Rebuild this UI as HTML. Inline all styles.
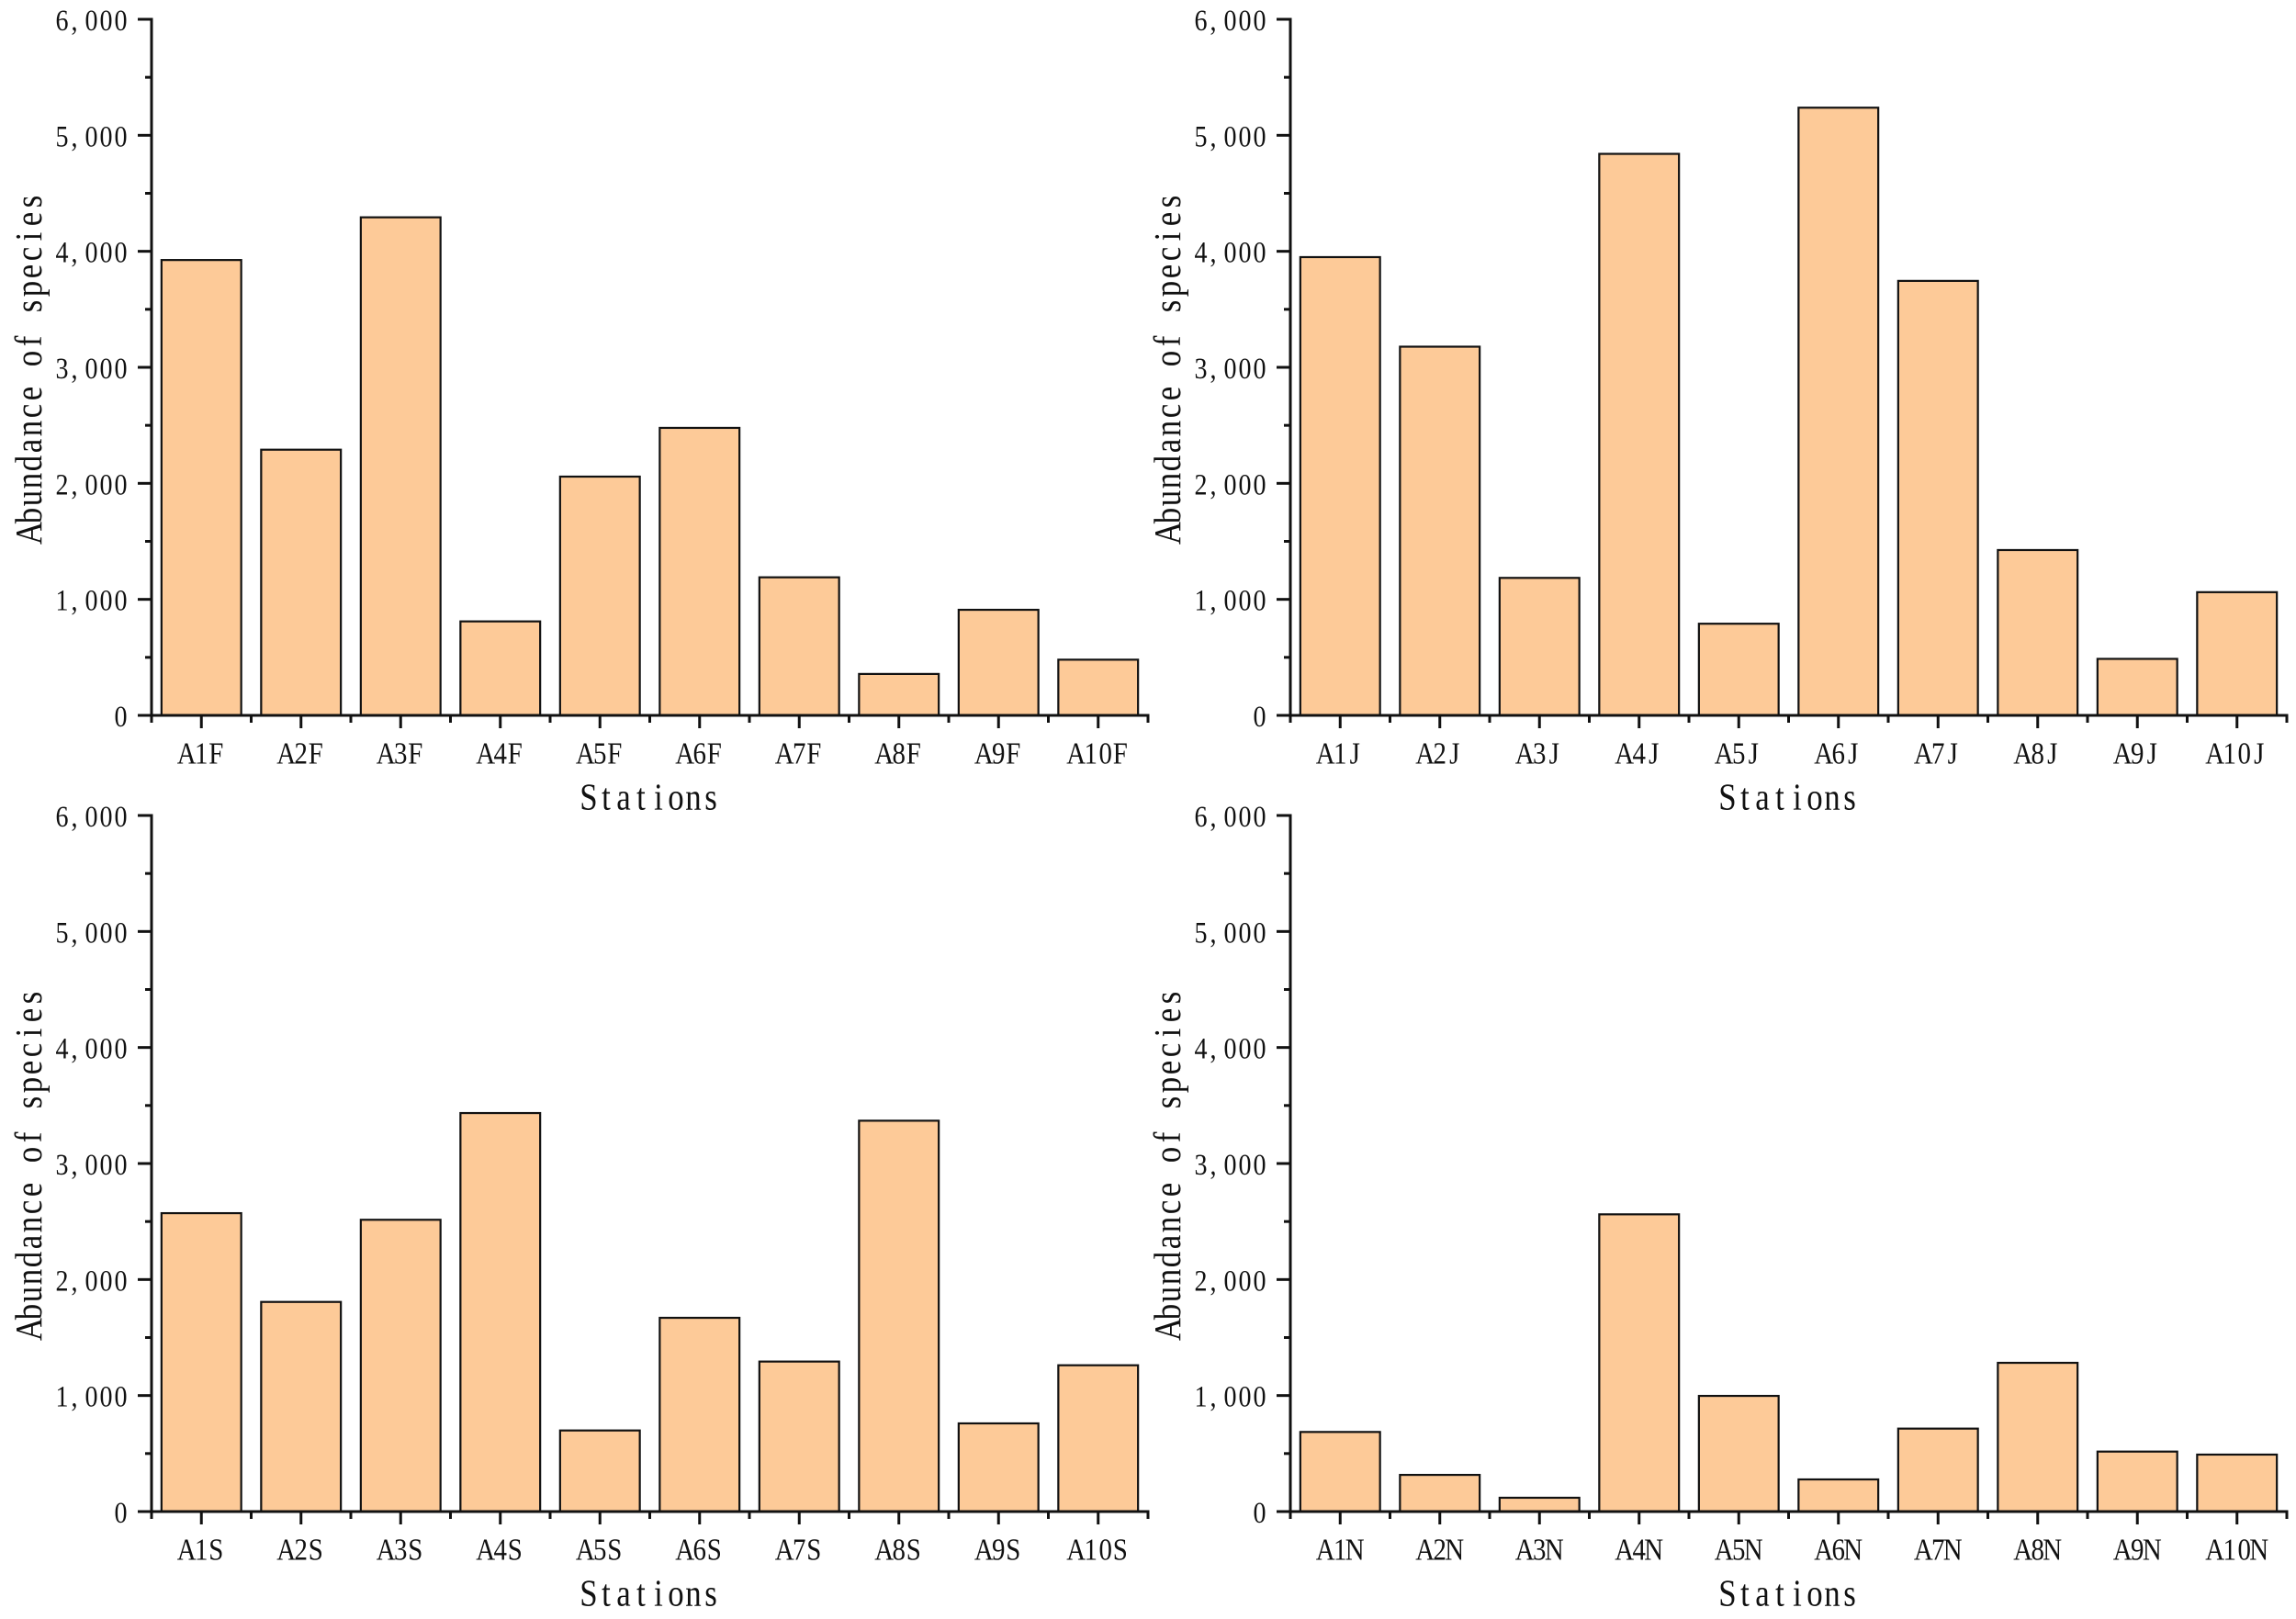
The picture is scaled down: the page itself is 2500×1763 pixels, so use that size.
<!DOCTYPE html>
<html lang="en">
<head>
<meta charset="utf-8">
<title>Abundance of species by station</title>
<style>
html,body{margin:0;padding:0;background:#fff;}
svg{display:block;}
text{font-family:"Liberation Serif","Noto Serif CJK SC",serif;fill:#111;}
</style>
</head>
<body>
<svg id="chart" xmlns="http://www.w3.org/2000/svg" width="2500" height="1763" viewBox="0 0 2500 1763"></svg>
<script>
// ---- data ----
const categoriesF = ["A1F","A2F","A3F","A4F","A5F","A6F","A7F","A8F","A9F","A10F"];
const categoriesJ = ["A1J","A2J","A3J","A4J","A5J","A6J","A7J","A8J","A9J","A10J"];
const categoriesS = ["A1S","A2S","A3S","A4S","A5S","A6S","A7S","A8S","A9S","A10S"];
const categoriesN = ["A1N","A2N","A3N","A4N","A5N","A6N","A7N","A8N","A9N","A10N"];
const valuesF = [3925,2290,4293,810,2058,2478,1190,357,910,480];
const valuesJ = [3950,3178,1185,4840,790,5238,3745,1425,487,1062];
const valuesS = [2572,1807,2515,3435,699,1670,1293,3369,760,1261];
const valuesN = [686,316,119,2562,997,277,715,1282,517,491];
const yTickValues = [0,1000,2000,3000,4000,5000,6000];
const yTickLabels = ["0","1,000","2,000","3,000","4,000","5,000","6,000"];
const yMinorValues = [500,1500,2500,3500,4500,5500];
const xTitleText = "Stations";
const yTitleText = "Abundance of species";

// ---- layout ----
const svg = document.getElementById('chart');
const NS = 'http://www.w3.org/2000/svg';
const plotW = 1085, plotH = 758, yMax = 6000;
const squeeze = 0.85;
const ctx = document.createElement('canvas').getContext('2d');

function make(tag, parent, attrs) {
  const el = document.createElementNS(NS, tag);
  for (const k in attrs) el.setAttribute(k, attrs[k]);
  parent.appendChild(el);
  return el;
}

// Emulates the narrow half-width label font: each squeezed glyph is centred in a fixed cell.
// Returned coordinates are in the squeezed text space (the text element carries scale(squeeze,1)).
function glyphXs(str, start, size, cell) {
  ctx.font = size + 'px "Liberation Serif"';
  const xs = [];
  for (let i = 0; i < str.length; i++) {
    const w = ctx.measureText(str[i]).width * squeeze;
    const inset = str[i] === ',' ? 2 : (cell - w) / 2;
    xs.push(((start + i * cell + inset) / squeeze).toFixed(2));
  }
  return xs.join(' ');
}

function drawPanel(name, left, top, categories, values) {
  const base = top + plotH;
  const xBand = i => left + plotW * i / categories.length;
  const xCenter = i => xBand(i) + plotW / categories.length / 2;
  const yPos = v => base - v / yMax * plotH;
  const barW = plotW / categories.length * 0.8;

  const g = make('g', svg, {});
  
  

  values.forEach((v, i) => {
    const bar = make('rect', g, {
      x: xCenter(i) - barW / 2, y: yPos(v), width: barW, height: base - yPos(v),
      fill: '#fdca98', stroke: '#111', 'stroke-width': 2.2
    });
    
    
  });

  const yAxis = make('line', g, {x1: left, y1: top - 1.5, x2: left, y2: base + 8, stroke: '#111', 'stroke-width': 3});
  
  
  const xAxis = make('line', g, {x1: left - 15, y1: base, x2: left + plotW + 1.5, y2: base, stroke: '#111', 'stroke-width': 3});
  
  

  yTickValues.forEach((v, i) => {
    const tick = make('line', g, {x1: left - 15, y1: yPos(v), x2: left, y2: yPos(v), stroke: '#111', 'stroke-width': 3});
    
    
    const s = yTickLabels[i];
    const label = make('text', g, {
      x: glyphXs(s, left - 25.5 - s.length * 16, 33, 16), y: yPos(v) + 12, 'font-size': 33,
      transform: 'scale(' + squeeze + ' 1)'
    });
    label.textContent = s;
    
    
  });
  yMinorValues.forEach(v => {
    const tick = make('line', g, {x1: left - 7, y1: yPos(v), x2: left, y2: yPos(v), stroke: '#111', 'stroke-width': 3});
    
    
  });

  categories.forEach((c, i) => {
    const tick = make('line', g, {x1: xCenter(i), y1: base, x2: xCenter(i), y2: base + 14, stroke: '#111', 'stroke-width': 3});
    
    
    const label = make('text', g, {
      x: glyphXs(c, xCenter(i) - c.length * 8, 34, 16), y: base + 52.5, 'font-size': 34,
      transform: 'scale(' + squeeze + ' 1)'
    });
    label.textContent = c;
    
    
  });
  for (let i = 0; i <= categories.length; i++) {
    const tick = make('line', g, {x1: xBand(i), y1: base, x2: xBand(i), y2: base + 8, stroke: '#111', 'stroke-width': 3});
    
    
  }

  const xMid = left + plotW / 2;
  const xTitle = make('text', g, {
    x: glyphXs(xTitleText, xMid - xTitleText.length * 9.5, 41, 19), y: base + 102.5, 'font-size': 41,
    transform: 'scale(' + squeeze + ' 1)'
  });
  xTitle.textContent = xTitleText;
  
  

  const yMid = top + plotH / 2;
  const titleX = left - 120;
  const yTitle = make('text', g, {
    x: glyphXs(yTitleText, yMid - yTitleText.length * 9.5, 41, 19), y: 0, 'font-size': 41,
    transform: 'translate(' + titleX + ' 0) rotate(-90) translate(' + (-2 * yMid) + ' 0) scale(' + squeeze + ' 1)'
  });
  yTitle.textContent = yTitleText;
  
  
}

drawPanel('panel-f', 165, 21, categoriesF, valuesF);
drawPanel('panel-j', 1405, 21, categoriesJ, valuesJ);
drawPanel('panel-s', 165, 888, categoriesS, valuesS);
drawPanel('panel-n', 1405, 888, categoriesN, valuesN);
</script>
</body>
</html>
